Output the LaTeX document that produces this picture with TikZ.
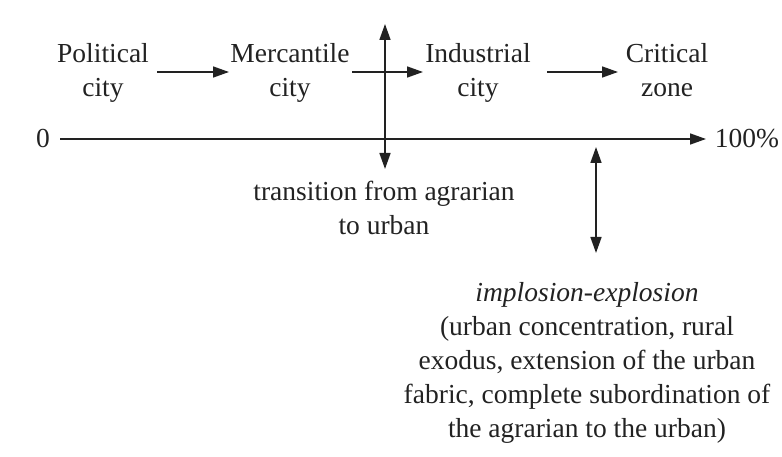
\documentclass[tikz,border=0pt]{standalone}
\usepackage{fontspec}
\setmainfont{Liberation Serif}
\usetikzlibrary{arrows.meta}
\definecolor{ink}{HTML}{222222}
\tikzset{
  lbl/.style={font=\fontsize{27.5}{34}\selectfont, text=ink, align=center, inner sep=0pt, anchor=base},
  arr/.style={draw=ink, line width=1.6pt, -{Triangle[length=16pt,width=11pt]}},
  darr/.style={draw=ink, line width=1.6pt, {Triangle[length=16pt,width=11pt]}-{Triangle[length=16pt,width=11pt]}}
}
\begin{document}
\begin{tikzpicture}[x=1pt,y=-1pt]
\useasboundingbox (0,0) rectangle (782,457);
\node[lbl] (pol) at (103,97) {Political\\city};
\node[lbl] (mer) at (290,97) {Mercantile\\city};
\node[lbl] (ind) at (478,97) {Industrial\\city};
\node[lbl] (cri) at (667,97) {Critical\\zone};
\node[lbl] (zero) at (43,148) {0};
\node[lbl] (pct) at (747,148) {100\%};
\node[lbl] (tra) at (384,235) {transition from agrarian\\to urban};
\node[lbl] (imp) at (587,437) {\textit{implosion-explosion}\\(urban concentration, rural\\exodus, extension of the urban\\fabric, complete subordination of\\the agrarian to the urban)};
\coordinate (a1s) at (157,72); \coordinate (a1e) at (229,72);
\coordinate (a2s) at (352,72); \coordinate (a2e) at (423,72);
\coordinate (a3s) at (547,72); \coordinate (a3e) at (618,72);
\coordinate (ax0) at (60,139); \coordinate (ax1) at (706,139);
\coordinate (v1t) at (385,24); \coordinate (v1b) at (385,169);
\coordinate (v2t) at (596,147); \coordinate (v2b) at (596,253);
\draw[arr] (a1s) -- (a1e);
\draw[arr] (a2s) -- (a2e);
\draw[arr] (a3s) -- (a3e);
\draw[arr] (ax0) -- (ax1);
\draw[darr] (v1b) -- (v1t);
\draw[darr] (v2t) -- (v2b);
\end{tikzpicture}
\end{document}
